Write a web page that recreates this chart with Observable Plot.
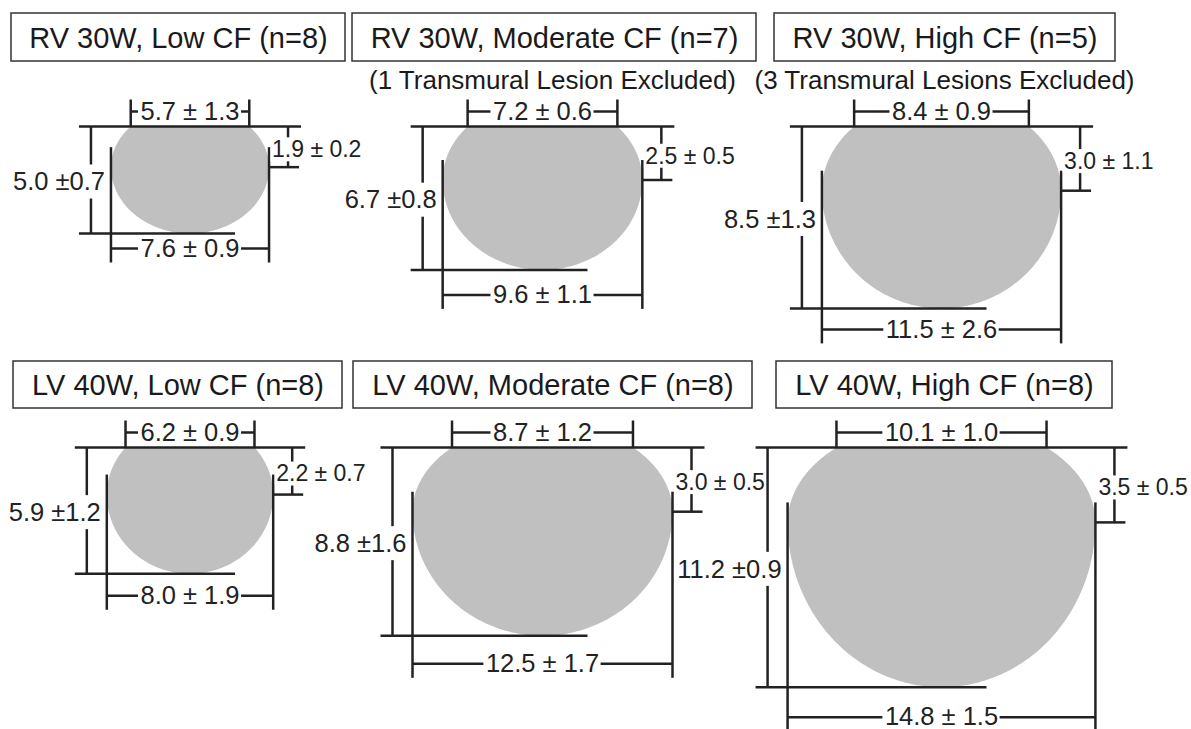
<!DOCTYPE html>
<html>
<head>
<meta charset="utf-8">
<script src="https://cdn.jsdelivr.net/npm/d3@7"></script>
<script src="https://cdn.jsdelivr.net/npm/@observablehq/plot@0.6"></script>
<style>
  html, body { margin: 0; padding: 0; background: white; }
  #chart svg { display: block; }
</style>
</head>
<body>
<div id="chart"></div>
<script>
// ---- Data (mm, mean ± SD) ----
const titles = [
  "RV 30W, Low CF (n=8)", "RV 30W, Moderate CF (n=7)", "RV 30W, High CF (n=5)",
  "LV 40W, Low CF (n=8)", "LV 40W, Moderate CF (n=8)", "LV 40W, High CF (n=8)"
];
const notes = ["", "(1 Transmural Lesion Excluded)", "(3 Transmural Lesions Excluded)", "", "", ""];
const depth = [5.0, 6.7, 8.5, 5.9, 8.8, 11.2];
const depthSD = [0.7, 0.8, 1.3, 1.2, 1.6, 0.9];
const surfaceWidth = [5.7, 7.2, 8.4, 6.2, 8.7, 10.1];
const surfaceWidthSD = [1.3, 0.6, 0.9, 0.9, 1.2, 1.0];
const maxWidth = [7.6, 9.6, 11.5, 8.0, 12.5, 14.8];
const maxWidthSD = [0.9, 1.1, 2.6, 1.9, 1.7, 1.5];
const depthAtMaxWidth = [1.9, 2.5, 3.0, 2.2, 3.0, 3.5];
const depthAtMaxWidthSD = [0.2, 0.5, 1.1, 0.7, 0.5, 0.5];

// ---- Layout (pixels) ----
const W = 1191, H = 729;
const KX = 20.8, KY = 21.4;              // px per mm
const colCx = [189.5, 542, 941];
const rowTop = [126, 447];
const boxX = [[11, 345], [352, 756], [774, 1115], [13, 342], [353, 752], [776, 1112]];
const boxY = [[13, 61], [361, 408]];
const noteX = [0, 552, 944];
const bottomDimOffset = [15, 25, 21, 22, 28, 30];
const FONT = "'Liberation Sans', Arial, sans-serif";
const LABEL = 25.5, SIDE = 23;

const ctx = document.createElement("canvas").getContext("2d");
const textW = (s, size) => { ctx.font = `${size}px ${FONT}`; return ctx.measureText(s).width; };

const f = v => v.toFixed(1);
const boxes = [], titleText = [], noteText = [], shape = [], segs = [], bg = [];
const labelsMid = [], labelsEnd = [], labelsStart = [];

function addBg(x, y, w, anchor, padX, padY) {
  const x1 = anchor === "middle" ? x - w / 2 : anchor === "end" ? x - w : x;
  bg.push({x1: x1 - padX, x2: x1 + w + padX, y1: y - padY, y2: y + padY});
}

titles.forEach((t, i) => {
  const col = i % 3, row = Math.floor(i / 3);
  const cx = colCx[col], top = rowTop[row];
  boxes.push({x1: boxX[i][0], x2: boxX[i][1], y1: boxY[row][0], y2: boxY[row][1]});
  titleText.push({x: (boxX[i][0] + boxX[i][1]) / 2, y: (boxY[row][0] + boxY[row][1]) / 2 + 1, text: t});
  if (notes[i]) noteText.push({x: noteX[col], y: 80, text: notes[i]});

  const halfW = maxWidth[i] * KX / 2, halfS = surfaceWidth[i] * KX / 2;
  const L = cx - halfW, R = cx + halfW;
  const B = top + depth[i] * KY, M = top + depthAtMaxWidth[i] * KY;
  const dx = L - 20;
  const dimY = B + bottomDimOffset[i];

  // lesion outline: ellipse above the max-width level truncated by the surface, ellipse below
  const r = halfS / halfW;
  const bUp = (M - top) / Math.sqrt(1 - r * r);
  const a0 = Math.asin(r);
  const N = 60, pts = [];
  for (let k = 0; k <= N; k++) { const a = a0 + (Math.PI / 2 - a0) * k / N; pts.push([cx + halfW * Math.sin(a), M - bUp * Math.cos(a)]); }
  const loRy = B - M;
  for (let k = 1; k <= 2 * N; k++) { const a = k / (2 * N) * Math.PI; pts.push([cx + halfW * Math.cos(a), M + loRy * Math.sin(a)]); }
  for (let k = 1; k <= N; k++) { const a = Math.PI / 2 - (Math.PI / 2 - a0) * k / N; pts.push([cx - halfW * Math.sin(a), M - bUp * Math.cos(a)]); }
  pts.forEach(([x, y]) => shape.push({panel: i, x, y}));

  const seg = (x1, y1, x2, y2) => segs.push({x1, y1, x2, y2});
  seg(dx - 12, top, R + 32, top);            // surface line
  seg(dx, top, dx, B);                        // depth dimension
  seg(dx - 12, B, cx + 45, B);                // bottom line
  seg(L, M - 20, L, dimY + 14);               // max width extension left
  seg(R, M - 20, R, dimY + 14);               // max width extension right
  seg(L, dimY, R, dimY);                      // max width dimension
  seg(cx - halfS, top - 27, cx - halfS, top); // surface width ticks
  seg(cx + halfS, top - 27, cx + halfS, top);
  seg(cx - halfS, top - 15, cx + halfS, top - 15);
  seg(R + 19, top, R + 19, M);                // depth at max width
  seg(R, M, R + 30, M);

  const sTop = `${f(surfaceWidth[i])} ± ${f(surfaceWidthSD[i])}`;
  const sBot = `${f(maxWidth[i])} ± ${f(maxWidthSD[i])}`;
  const sDep = `${f(depth[i])} ±${f(depthSD[i])}`;
  const sSide = `${f(depthAtMaxWidth[i])} ± ${f(depthAtMaxWidthSD[i])}`;
  labelsMid.push({x: cx, y: top - 15, text: sTop});
  addBg(cx, top - 15, textW(sTop, LABEL), "middle", 2, 6);
  labelsMid.push({x: cx, y: dimY, text: sBot});
  addBg(cx, dimY, textW(sBot, LABEL), "middle", 2, 6);
  const yDep = (top + B) / 2 + 2;
  labelsEnd.push({x: dx + 14, y: yDep, text: sDep});
  addBg(dx + 14, yDep, textW(sDep, LABEL), "end", 2, 17);
  const ySide = (top + M) / 2 + 3;
  labelsStart.push({x: R + 3, y: ySide, text: sSide});
  addBg(R + 3, ySide, textW(sSide, SIDE), "start", 1, 12);
});

const txt = {fill: "#222"};
const chart = Plot.plot({
  width: W, height: H, margin: 0,
  x: {domain: [0, W], range: [0, W], axis: null},
  y: {domain: [0, H], range: [0, H], axis: null},
  style: {background: "white", fontFamily: FONT, overflow: "visible"},
  marks: [
    Plot.rect(boxes, {x1: "x1", x2: "x2", y1: "y1", y2: "y2", fill: "white", stroke: "#333", strokeWidth: 1.5}),
    Plot.text(titleText, {x: "x", y: "y", text: "text", fontSize: 29, fill: "#1a1a1a"}),
    Plot.text(noteText, {x: "x", y: "y", text: "text", fontSize: 26, fill: "#1a1a1a"}),
    Plot.line(shape, {x: "x", y: "y", z: "panel", fill: "#c0c0c0", stroke: "none", curve: "linear"}),
    Plot.link(segs, {x1: "x1", y1: "y1", x2: "x2", y2: "y2", stroke: "#222", strokeWidth: 2.5}),
    Plot.rect(bg, {x1: "x1", x2: "x2", y1: "y1", y2: "y2", fill: "white"}),
    Plot.text(labelsMid, {x: "x", y: "y", text: "text", fontSize: LABEL, ...txt}),
    Plot.text(labelsEnd, {x: "x", y: "y", text: "text", fontSize: LABEL, textAnchor: "end", ...txt}),
    Plot.text(labelsStart, {x: "x", y: "y", text: "text", fontSize: SIDE, textAnchor: "start", ...txt})
  ]
});
document.getElementById("chart").append(chart);
</script>
</body>
</html>
